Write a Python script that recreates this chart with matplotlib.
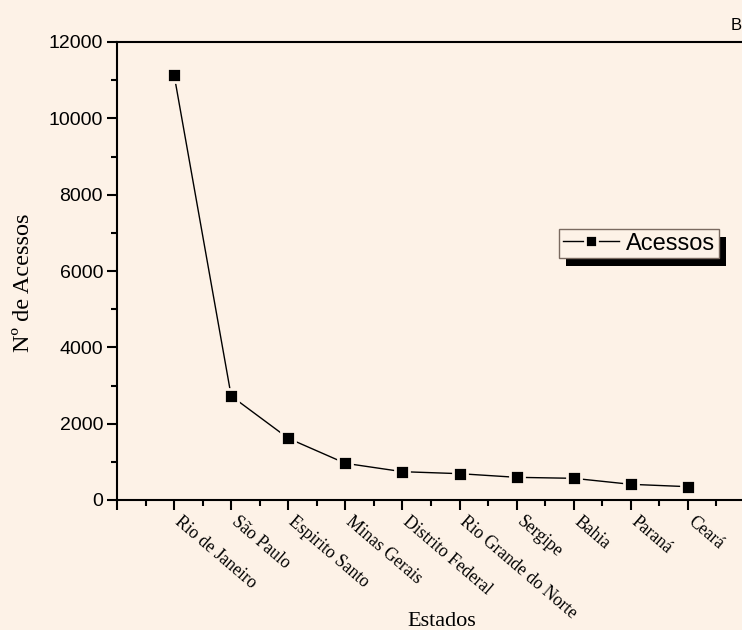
import numpy as np
import matplotlib
matplotlib.use("Agg")
import matplotlib.pyplot as plt
from matplotlib.patches import Rectangle
from matplotlib.ticker import MultipleLocator, NullFormatter
from matplotlib.transforms import ScaledTranslation, blended_transform_factory

# data
estados = ['Rio de Janeiro', 'São Paulo', 'Espirito Santo', 'Minas Gerais',
           'Distrito Federal', 'Rio Grande do Norte', 'Sergipe', 'Bahia',
           'Paraná', 'Ceará']
acessos = [11140, 2725, 1616, 961, 742, 690, 594, 568, 411, 349]

bg = '#FDF2E7'
serif = 'Liberation Serif'
sans = 'Liberation Sans'

fig = plt.figure(figsize=(7.42, 6.30), dpi=100, facecolor=bg)
ax = fig.add_axes([117/742, 130/630, 628/742, 458/630], facecolor=bg)

x = np.arange(1, len(estados) + 1)
ax.plot(x, acessos, color='black', lw=1, marker='s', ms=9.5, mfc='black',
        mec=bg, mew=2, label='Acessos', clip_on=False)

ax.set_xlim(0, 11)
ax.set_ylim(0, 12000)

ax.xaxis.set_major_locator(MultipleLocator(1))
ax.xaxis.set_minor_locator(MultipleLocator(0.5))
ax.xaxis.set_major_formatter(NullFormatter())
ax.yaxis.set_major_locator(MultipleLocator(2000))
ax.yaxis.set_minor_locator(MultipleLocator(1000))

# rotated category labels, anchored just below each tick
trans = blended_transform_factory(ax.transData, ax.transAxes) + \
    ScaledTranslation(8/100, -13/100, fig.dpi_scale_trans)
for xi, name in zip(x, estados):
    ax.text(xi, 0, name, transform=trans, rotation=-40.5, rotation_mode='anchor',
            ha='left', va='top', fontfamily=serif, fontsize=12.7, clip_on=False)

ax.tick_params(axis='x', which='major', direction='out', length=7, width=1.5)
ax.tick_params(axis='x', which='minor', direction='out', length=4, width=1.5)
ax.tick_params(axis='y', which='major', direction='out', length=7, width=1.5, pad=3)
ax.tick_params(axis='y', which='minor', direction='out', length=4, width=1.5)
for lab in ax.get_yticklabels():
    lab.set_fontfamily(sans)
    lab.set_fontsize(14)

for s in ax.spines.values():
    s.set_linewidth(1.5)
ax.spines['right'].set_visible(False)

ax.set_xlabel('Estados', fontfamily=serif, fontsize=16, labelpad=0)
ax.xaxis.set_label_coords(0.5175, -0.245)
ax.set_ylabel('Nº de Acessos', fontfamily=serif, fontsize=17.5)
ax.yaxis.set_label_coords(-0.132, 0.474)

leg = ax.legend(loc='upper left', bbox_to_anchor=(559/742, 1 - 229/630),
                bbox_transform=fig.transFigure, frameon=True, fancybox=False,
                prop={'family': sans, 'size': 17}, handlelength=2.4,
                handletextpad=0.3, borderpad=0.15, borderaxespad=0,
                markerscale=0.85)
leg.get_frame().set_facecolor(bg)
leg.get_frame().set_edgecolor('#7a6a60')
leg.get_frame().set_linewidth(1)
leg.get_frame().set_alpha(1)
leg.set_zorder(10)

fig.text(731/742, 1 - 25/630, 'B', fontfamily=sans, fontsize=12,
         ha='left', va='center')

# shadow behind legend
fig.canvas.draw()
bb = leg.get_window_extent().transformed(fig.transFigure.inverted())
shadow = Rectangle((bb.x0 + 7/742, bb.y0 - 8/630), bb.width, bb.height,
                   transform=fig.transFigure, facecolor='black',
                   edgecolor='none', zorder=9, clip_on=False)
ax.add_patch(shadow)

fig.savefig('out.png', dpi=100, facecolor=bg)
